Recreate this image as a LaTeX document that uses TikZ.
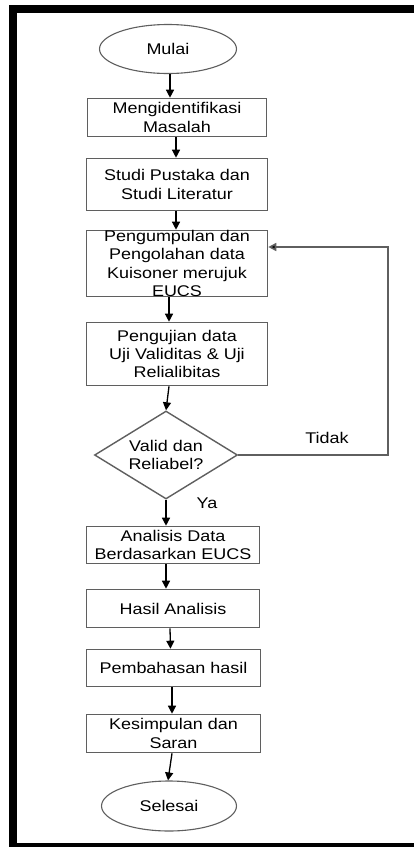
\documentclass[tikz,border=0pt]{standalone}
\usepackage{fontspec}
\setmainfont{Liberation Sans}[FakeStretch=1.16]
\usetikzlibrary{shapes.geometric,arrows.meta}
\definecolor{boxgray}{RGB}{95,95,95}
\begin{document}
\begin{tikzpicture}[x=1pt,y=-1pt,
  stepbox/.style={draw=boxgray, line width=1.6pt, inner sep=0pt, fill=white},
  endbox/.style={ellipse, draw=boxgray, line width=1.1pt, inner sep=0pt},
  decbox/.style={diamond, draw=boxgray, line width=1.4pt, inner sep=0pt},
  txt/.style={align=center, inner sep=0pt, font=\fontsize{15.5}{18.3}\selectfont},
  arr/.style={draw=black, line width=1.3pt, -{Triangle[length=8pt,width=8pt]}},
  looparr/.style={draw=boxgray, line width=1.6pt, -{Triangle[length=8pt,width=8pt,fill=black]}}]
\useasboundingbox (0,0) rectangle (414,847);
\clip (0,0) rectangle (414,847);
\fill[white] (0,0) rectangle (414,847);
% frame
\draw[line width=8pt, black] (13,9) rectangle (424,847);

% nodes
\node[endbox, minimum width=137pt, minimum height=49pt] (m) at (168,49) {};
\node[txt] (tm) at (m) {Mulai};

\node[stepbox, minimum width=179pt, minimum height=38pt] (b1) at (177,117.5) {};
\node[txt] (t1) at (b1) {Mengidentifikasi\\Masalah};

\node[stepbox, minimum width=181pt, minimum height=52pt] (b2) at (177,184.5) {};
\node[txt] (t2) at (b2) {Studi Pustaka dan\\Studi Literatur};

\node[stepbox, minimum width=181pt, minimum height=66pt] (b3) at (177,263.5) {};
\node[txt] (t3) at (b3) {Pengumpulan dan\\Pengolahan data\\Kuisoner merujuk\\EUCS};

\node[stepbox, minimum width=181pt, minimum height=63pt] (b4) at (177,354) {};
\node[txt] (t4) at (b4) {Pengujian data\\Uji Validitas \& Uji\\Relialibitas};

\node[decbox, minimum width=143pt, minimum height=88pt] (d) at (166,455) {};
\node[txt] (td) at (d) {Valid dan\\Reliabel?};

\node[stepbox, minimum width=173pt, minimum height=37pt] (b5) at (173,545) {};
\node[txt] (t5) at (b5) {Analisis Data\\Berdasarkan EUCS};

\node[stepbox, minimum width=173pt, minimum height=38pt] (b6) at (173,608.5) {};
\node[txt] (t6) at (b6) {Hasil Analisis};

\node[stepbox, minimum width=174pt, minimum height=37pt] (b7) at (173.5,668) {};
\node[txt] (t7) at (b7) {Pembahasan hasil};

\node[stepbox, minimum width=174pt, minimum height=38pt] (b8) at (173.5,733.5) {};
\node[txt] (t8) at (b8) {Kesimpulan dan\\Saran};

\node[endbox, minimum width=135pt, minimum height=50pt] (s) at (169,806) {};
\node[txt] (ts) at (s) {Selesai};

% labels
\node[txt] (lt) at (327,438) {Tidak};
\node[txt] (ly) at (207,503) {Ya};

% connectors
\draw[arr] ([xshift=2pt]m.south) -- ([xshift=-7pt]b1.north);
\draw[arr] ([xshift=-1pt]b1.south) -- ([xshift=-1pt]b2.north);
\draw[arr] ([xshift=-1pt]b2.south) -- ([xshift=-1pt]b3.north);
\draw[arr] ([xshift=-8pt]b3.south) -- ([xshift=-8pt]b4.north);
\draw[arr] ([xshift=-8pt]b4.south) -- (d.north);
\draw[arr] (d.south) -- ([xshift=-7pt]b5.north);
\draw[arr] ([xshift=-7pt]b5.south) -- ([xshift=-7pt]b6.north);
\draw[arr] ([xshift=-3pt]b6.south) -- ([xshift=-3pt]b7.north);
\draw[arr] ([xshift=-1.5pt]b7.south) -- ([xshift=-1.5pt]b8.north);
\draw[arr] ([xshift=-1.5pt]b8.south) -- ([xshift=-1pt]s.north);

\coordinate (lp) at (388,247);
\draw[looparr] (d.east) -| (lp) -- (b3.east |- lp);
\end{tikzpicture}
\end{document}
